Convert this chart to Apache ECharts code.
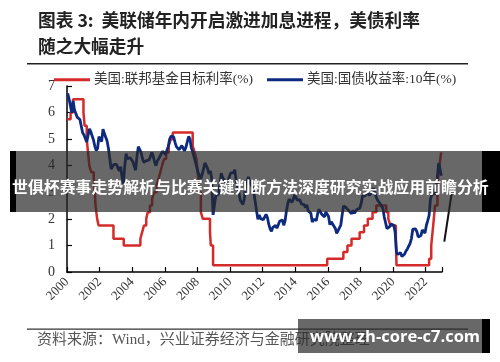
<!DOCTYPE html>
<html>
<head>
<meta charset="utf-8">
<script src="https://cdn.jsdelivr.net/npm/echarts@6/dist/echarts.min.js"></script>
<style>html,body{margin:0;padding:0;background:#fff}#c{width:500px;height:362px}</style>
</head>
<body>
<div id="c"></div>
<script>
// Title / texts
var titleLine1 = '图表 3:  美联储年内开启激进加息进程，美债利率';
var titleLine2 = '随之大幅走升';
var sourceText = '资料来源：Wind，兴业证券经济与金融研究院整理';
var bannerText = '世俱杯赛事走势解析与比赛关键判断方法深度研究实战应用前瞻分析';
var urlText = 'www.zh-core-c7.com';
var seriesNames = ['美国:联邦基金目标利率(%)', '美国:国债收益率:10年(%)'];

// X axis ticks (years)
var xTickYears = [2000, 2002, 2004, 2006, 2008, 2010, 2012, 2014, 2016, 2018, 2020, 2022];
var yTicks = [0, 1, 2, 3, 4, 5, 6, 7];

// Fed funds target rate: change dates (decimal year) and rate from that date
var fedDates = [2000.00, 2000.09, 2000.22, 2000.37, 2001.01, 2001.08, 2001.21, 2001.29, 2001.37, 2001.49,
  2001.64, 2001.71, 2001.75, 2001.85, 2001.94, 2002.85, 2003.48, 2004.50, 2004.61, 2004.72,
  2004.86, 2004.95, 2005.09, 2005.22, 2005.34, 2005.50, 2005.61, 2005.72, 2005.83, 2005.95,
  2006.08, 2006.24, 2006.36, 2006.49, 2007.71, 2007.83, 2007.94, 2008.06, 2008.08, 2008.21,
  2008.33, 2008.77, 2008.82, 2008.96, 2015.96, 2016.95, 2017.20, 2017.45, 2017.95, 2018.22,
  2018.45, 2018.74, 2018.97, 2019.58, 2019.71, 2019.83, 2020.17, 2020.21, 2022.21, 2022.34,
  2022.46, 2022.57, 2022.72, 2022.84, 2022.95, 2022.99];
var fedRates = [5.75, 5.75, 6.0, 6.5, 6.0, 5.5, 5.0, 4.5, 4.0, 3.75,
  3.5, 3.0, 2.5, 2.0, 1.75, 1.25, 1.0, 1.25, 1.5, 1.75,
  2.0, 2.25, 2.5, 2.75, 3.0, 3.25, 3.5, 3.75, 4.0, 4.25,
  4.5, 4.75, 5.0, 5.25, 4.75, 4.5, 4.25, 3.5, 3.0, 2.25,
  2.0, 1.5, 1.0, 0.25, 0.5, 0.75, 1.0, 1.25, 1.5, 1.75,
  2.0, 2.25, 2.5, 2.25, 2.0, 1.75, 1.25, 0.25, 0.5, 1.0,
  1.75, 2.5, 3.25, 4.0, 4.5, 4.5];

// US 10Y Treasury yield, monthly from Jan 2000
var ustStartYear = 2000;
var ust10y = [
  6.72, 6.52, 6.26, 5.99, 6.44, 6.10, 6.05, 5.83, 5.80, 5.74, 5.72, 5.24,
  5.16, 5.10, 4.89, 5.14, 5.39, 5.28, 5.24, 4.97, 4.73, 4.57, 4.65, 5.09,
  5.04, 4.91, 5.38, 5.21, 5.16, 4.93, 4.65, 4.26, 3.87, 3.94, 4.05, 4.03,
  4.05, 3.90, 3.81, 3.96, 3.57, 3.33, 3.98, 4.45, 4.27, 4.29, 4.30, 4.27,
  4.15, 4.08, 3.83, 4.35, 4.72, 4.73, 4.50, 4.28, 4.13, 4.10, 4.19, 4.23,
  4.22, 4.17, 4.50, 4.34, 4.14, 4.00, 4.18, 4.26, 4.20, 4.46, 4.54, 4.47,
  4.42, 4.57, 4.72, 4.99, 5.11, 5.11, 5.09, 4.88, 4.72, 4.73, 4.60, 4.56,
  4.76, 4.72, 4.56, 4.69, 4.75, 5.10, 5.00, 4.67, 4.52, 4.53, 4.15, 4.10,
  3.74, 3.74, 3.51, 3.68, 3.88, 4.10, 4.01, 3.89, 3.69, 3.81, 3.53, 2.15,
  2.52, 2.87, 2.82, 2.93, 3.29, 3.72, 3.56, 3.59, 3.40, 3.39, 3.40, 3.59,
  3.73, 3.69, 3.73, 3.85, 3.42, 3.20, 3.01, 2.70, 2.65, 2.54, 2.76, 3.29,
  3.39, 3.58, 3.41, 3.46, 3.17, 3.00, 3.00, 2.30, 1.98, 2.15, 2.01, 1.98,
  1.97, 1.97, 2.17, 2.05, 1.80, 1.62, 1.53, 1.68, 1.72, 1.75, 1.65, 1.72,
  1.91, 1.98, 1.96, 1.76, 1.93, 2.30, 2.58, 2.74, 2.81, 2.62, 2.72, 2.90,
  2.86, 2.71, 2.72, 2.71, 2.56, 2.60, 2.54, 2.42, 2.53, 2.30, 2.33, 2.21,
  1.88, 1.98, 2.04, 1.94, 2.20, 2.36, 2.32, 2.17, 2.17, 2.07, 2.26, 2.24,
  2.09, 1.78, 1.89, 1.81, 1.81, 1.64, 1.45, 1.56, 1.63, 1.76, 2.14, 2.49,
  2.43, 2.42, 2.48, 2.30, 2.30, 2.19, 2.32, 2.21, 2.20, 2.36, 2.35, 2.40,
  2.58, 2.86, 2.84, 2.87, 2.98, 2.91, 2.89, 2.89, 3.00, 3.15, 3.12, 2.83,
  2.71, 2.68, 2.57, 2.53, 2.40, 2.07, 2.06, 1.63, 1.70, 1.71, 1.81, 1.86,
  1.76, 1.50, 0.75, 0.66, 0.67, 0.73, 0.58, 0.65, 0.68, 0.79, 0.87, 0.93,
  1.08, 1.26, 1.61, 1.64, 1.62, 1.52, 1.32, 1.28, 1.37, 1.58, 1.56, 1.47,
  1.76, 1.93, 2.13, 2.75, 2.90, 3.14, 2.90, 2.90, 3.52, 4.10, 3.89, 3.62
];

var fedData = fedDates.map(function (d, i) { return [d, fedRates[i]]; });
var ustData = ust10y.map(function (v, i) { return [ustStartYear + (i + 0.5) / 12, v]; });

var serif = "'Liberation Serif','Noto Sans CJK SC',serif";
var chart = echarts.init(document.getElementById('c'), null, {renderer: 'canvas'});
chart.setOption({
  animation: false,
  backgroundColor: '#fff',
  grid: {left: 67, right: 58, top: 86, bottom: 90, outerBoundsMode: 'none'},
  legend: {
    left: 49, top: 68,
    itemWidth: 36, itemHeight: 3, itemGap: 14,
    icon: 'rect',
    textStyle: {fontFamily: serif, fontSize: 13.5, color: '#333', padding: [0, 0, 0, -1]},
    data: [
      {name: seriesNames[0], itemStyle: {color: '#d42a2a'}},
      {name: seriesNames[1], itemStyle: {color: '#0b2a80'}}
    ]
  },
  xAxis: {
    type: 'value', min: 2000, max: 2023, interval: 2,
    splitLine: {show: false},
    axisLine: {lineStyle: {color: '#000', width: 1.5}},
    axisTick: {inside: true, length: 5, lineStyle: {color: '#000', width: 1.2}},
    axisLabel: {
      rotate: 45, margin: 8, fontFamily: serif, fontSize: 13, color: '#333',
      formatter: function (v) { return xTickYears.indexOf(v) >= 0 ? String(v) : ''; }
    }
  },
  yAxis: {
    type: 'value', min: 0, max: 7, interval: 1,
    splitLine: {show: false},
    axisLine: {show: true, lineStyle: {color: '#000', width: 1.5}},
    axisTick: {show: true, inside: true, length: 5, lineStyle: {color: '#000', width: 1.2}},
    axisLabel: {margin: 12, fontFamily: serif, fontSize: 14, color: '#333',
      formatter: function (v) { return yTicks.indexOf(v) >= 0 ? String(v) : ''; }}
  },
  series: [
    {name: seriesNames[0], type: 'line', step: 'end', data: fedData, showSymbol: false,
      lineStyle: {color: '#d42a2a', width: 2.5}, itemStyle: {color: '#d42a2a'}},
    {name: seriesNames[1], type: 'line', data: ustData, showSymbol: false,
      lineStyle: {color: '#0b2a80', width: 2.8}, itemStyle: {color: '#0b2a80'}}
  ],
  graphic: [
    {type: 'text', left: 38, top: 11, style: {text: titleLine1, fontFamily: "'Noto Sans CJK SC'", fontWeight: 'bold', fontSize: 17.7, fill: '#222'}},
    {type: 'text', left: 38, top: 37, style: {text: titleLine2, fontFamily: "'Noto Sans CJK SC'", fontWeight: 'bold', fontSize: 17.7, fill: '#222'}},
    {type: 'rect', shape: {x: 27, y: 63, width: 441, height: 1.5}, style: {fill: '#222'}},
    {type: 'rect', shape: {x: 27, y: 328.5, width: 441, height: 1.2}, style: {fill: '#333'}},
    {type: 'text', left: 37, top: 333, style: {text: sourceText, fontFamily: serif, fontSize: 15, fill: '#555'}},
    {type: 'line', shape: {x1: 451.7, y1: 193, x2: 444.3, y2: 241.7}, style: {stroke: '#111', lineWidth: 2}, z: 50},
    {type: 'rect', shape: {x: 16, y: 151, width: 466, height: 61}, style: {fill: 'rgba(40,40,40,0.7)'}, z: 100},
    {type: 'rect', shape: {x: 10, y: 151, width: 6, height: 61}, style: {fill: '#000'}, z: 100},
    {type: 'rect', shape: {x: 482, y: 151, width: 18, height: 61}, style: {fill: '#000'}, z: 100},
    {type: 'text', x: 12, y: 187, style: {text: bannerText, fontFamily: "'Noto Sans CJK SC'", fontWeight: 'bold', fontSize: 15.9, fill: '#fff', textVerticalAlign: 'middle'}, z: 101},
    {type: 'rect', shape: {x: 298, y: 319, width: 184, height: 34}, style: {fill: 'rgba(40,40,40,0.7)'}, z: 100},
    {type: 'rect', shape: {x: 482, y: 319, width: 8, height: 34}, style: {fill: '#000'}, z: 100},
    {type: 'text', x: 310, y: 337, style: {text: urlText, fontFamily: "'Open Sans','Noto Sans',sans-serif", fontWeight: 'bold', fontSize: 16.5, fill: '#fff', textVerticalAlign: 'middle'}, z: 101}
  ]
});
</script>
</body>
</html>
